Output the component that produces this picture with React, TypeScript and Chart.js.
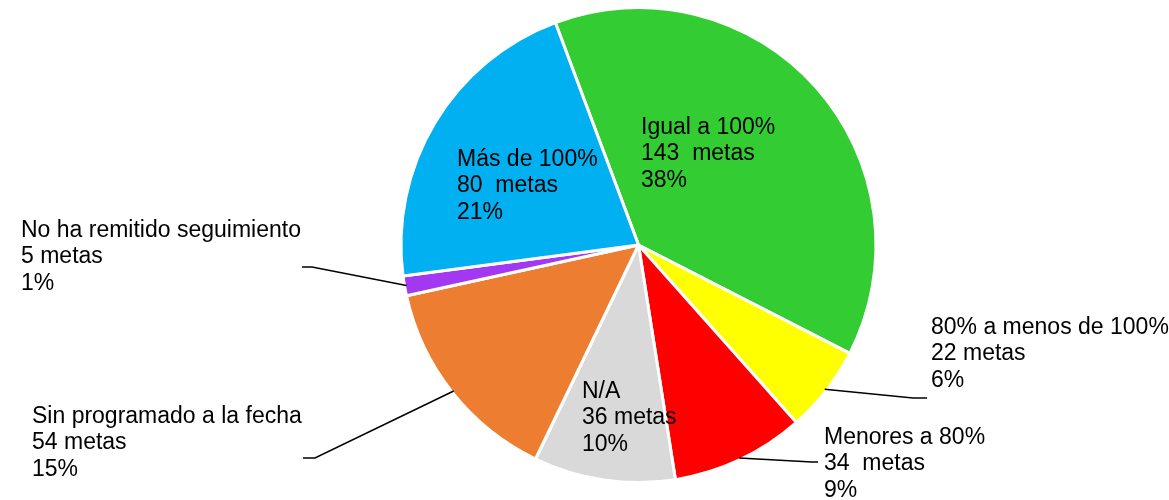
import React, { useEffect, useRef } from "react";
import { Chart, registerables } from "chart.js";

Chart.register(...registerables);

const categories = [
  "Igual a 100%",
  "80% a menos de 100%",
  "Menores a 80%",
  "N/A",
  "Sin programado a la fecha",
  "No ha remitido seguimiento",
  "Más de 100%",
];
const metas = [143, 22, 34, 36, 54, 5, 80];
const percents = ["38%", "6%", "9%", "10%", "15%", "1%", "21%"];
const metaTexts = ["143  metas", "22 metas", "34  metas", "36 metas", "54 metas", "5 metas", "80  metas"];
const colors = ["#33CC33", "#FFFF00", "#FF0000", "#D9D9D9", "#ED7D31", "#A238F2", "#00B0F0"];

// label layout: text left x, first baseline y, optional leader line (elbow, end)
const labelLayout = [
  { x: 641, y: 134, line: null },
  { x: 931, y: 334, line: [[913, 398], [927, 398]] },
  { x: 824, y: 444, line: [[812, 462], [818, 462]] },
  { x: 582, y: 398, line: null },
  { x: 32, y: 423, line: [[315, 458], [303, 458]] },
  { x: 21, y: 237, line: [[312, 267], [302, 267]] },
  { x: 457, y: 166, line: null },
];

const labelPlugin = {
  id: "pieLabels",
  afterDatasetsDraw(chart: any) {
    const ctx = chart.ctx;
    const meta = chart.getDatasetMeta(0);
    ctx.save();
    meta.data.forEach((arc: any, i: number) => {
      const lay = labelLayout[i];
      if (lay.line) {
        const mid = (arc.startAngle + arc.endAngle) / 2;
        const sx = arc.x + Math.cos(mid) * (arc.outerRadius - 2);
        const sy = arc.y + Math.sin(mid) * (arc.outerRadius - 2);
        ctx.beginPath();
        ctx.strokeStyle = "#000";
        ctx.lineWidth = 1.5;
        ctx.moveTo(sx, sy);
        ctx.lineTo(lay.line[0][0], lay.line[0][1]);
        ctx.lineTo(lay.line[1][0], lay.line[1][1]);
        ctx.stroke();
      }
      ctx.fillStyle = "#000";
      ctx.font = '23px "Liberation Sans", Arial, sans-serif';
      ctx.textBaseline = "alphabetic";
      ctx.textAlign = "left";
      const lines = [categories[i], metaTexts[i], percents[i]];
      lines.forEach((t, k) => ctx.fillText(t, lay.x, lay.y + k * 26.3));
    });
    ctx.restore();
  },
};

export default function App() {
  const ref = useRef<HTMLCanvasElement>(null);
  useEffect(() => {
    const chart = new Chart(ref.current!, {
      type: "pie",
      data: {
        labels: categories,
        datasets: [
          {
            data: metas,
            backgroundColor: colors,
            borderColor: "#FFFFFF",
            borderWidth: 3,
            hoverOffset: 0,
            offset: 0,
          },
        ],
      },
      options: {
        animation: false,
        responsive: false,
        rotation: -20.5,
        layout: { padding: { top: 6, bottom: 16, left: 108, right: 0 } },
        plugins: { legend: { display: false }, tooltip: { enabled: false } },
      },
      plugins: [labelPlugin],
    });
    return () => chart.destroy();
  }, []);
  return (
    <div style={{ position: "fixed", left: 0, top: 0, width: 1169, height: 500, background: "#fff" }}>
      <canvas ref={ref} width={1169} height={500} style={{ width: 1169, height: 500 }} />
    </div>
  );
}
